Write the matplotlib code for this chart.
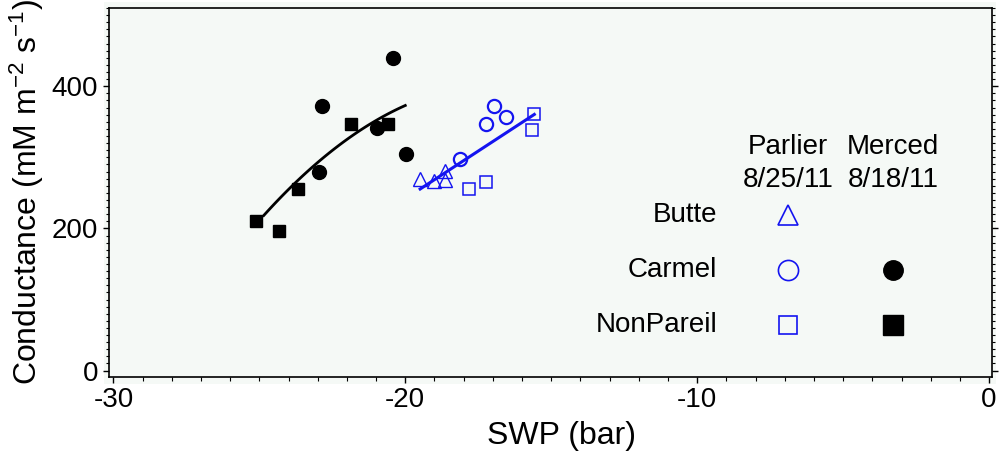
import numpy as np
import matplotlib
matplotlib.use("Agg")
import matplotlib.pyplot as plt
from matplotlib.patches import Rectangle
from matplotlib.ticker import MultipleLocator

plt.rcParams['font.family'] = ['Liberation Sans', 'DejaVu Sans']
plt.rcParams['axes.unicode_minus'] = False
plt.rcParams['mathtext.default'] = 'regular'

# Merced 8/18/11 (preto)
merced_carmel_x = [-20.43, -22.87, -20.97, -19.97, -22.97]
merced_carmel_y = [440, 372, 341, 304, 279]
merced_nonpareil_x = [-21.85, -20.59, -23.69, -25.10, -24.34]
merced_nonpareil_y = [347, 347, 256, 211, 196]

merced_curve_x = [-24.85, -24.17, -23.60, -23.02, -22.46, -21.88, -21.31, -20.74, -20.0]
merced_curve_y = [219, 247, 270, 291, 312, 330, 344, 357, 373]

# Parlier 8/25/11 (azul)
parlier_butte_x = [-19.49, -19.03, -18.65, -18.63]
parlier_butte_y = [270, 267, 281, 268]
parlier_carmel_x = [-16.96, -16.56, -17.23, -18.11]
parlier_carmel_y = [372, 357, 347, 298]
parlier_nonpareil_x = [-15.58, -15.66, -17.23, -17.82]
parlier_nonpareil_y = [361, 339, 265, 255]

row_labels = ["Butte", "Carmel", "NonPareil"]
BLUE = "#1414f0"

W, H = 1008, 457
fig = plt.figure(figsize=(W / 100, H / 100), dpi=100)

# fundo esverdeado um pouco maior que os eixos
fig.patches.append(Rectangle((104 / W, 1 - 384 / H), (996 - 104) / W, (384 - 2) / H,
                             transform=fig.transFigure, facecolor="#f5f9f6",
                             edgecolor="none", zorder=-10))

ax = fig.add_axes([109 / W, 1 - 377 / H, (992 - 109) / W, (377 - 8) / H])
ax.set_zorder(1)
ax.set_facecolor("#f5f9f6")
ax.set_xlim(-30.15, 0.1)
ax.set_ylim(-9, 510)

# curva Merced (quadratica suavizada pelos pontos lidos)
cx = np.array(merced_curve_x)
c2 = np.polyfit(cx, np.array(merced_curve_y), 2)
xx = np.linspace(cx.min(), cx.max(), 100)
ax.plot(xx, np.polyval(c2, xx), color="black", lw=2.0, zorder=2)

# reta Parlier
px = np.array(parlier_butte_x + parlier_carmel_x + parlier_nonpareil_x)
py = np.array(parlier_butte_y + parlier_carmel_y + parlier_nonpareil_y)
c1 = np.polyfit(px, py, 1)
xl = np.array([px.min(), px.max()])
ax.plot(xl, np.polyval(c1, xl), color=BLUE, lw=2.2, zorder=2)

ax.plot(merced_carmel_x, merced_carmel_y, "o", color="black", ms=10, ls="none", zorder=3)
ax.plot(merced_nonpareil_x, merced_nonpareil_y, "s", color="black", ms=8.8, ls="none", zorder=3)
ax.plot(parlier_butte_x, parlier_butte_y, "^", mfc="none", mec=BLUE, mew=1.0, ms=10, ls="none", zorder=3)
ax.plot(parlier_carmel_x, parlier_carmel_y, "o", mfc="none", mec=BLUE, mew=1.6, ms=9.5, ls="none", zorder=3)
ax.plot(parlier_nonpareil_x, parlier_nonpareil_y, "s", mfc="none", mec=BLUE, mew=1.1, ms=8.5, ls="none", zorder=3)

# legenda feita a mao
tr = ax.transAxes
fs = 20
ax.text(0.769, 0.623, "Parlier", transform=tr, ha="center", va="center", fontsize=fs)
ax.text(0.769, 0.534, "8/25/11", transform=tr, ha="center", va="center", fontsize=fs)
ax.text(0.888, 0.623, "Merced", transform=tr, ha="center", va="center", fontsize=fs)
ax.text(0.888, 0.534, "8/18/11", transform=tr, ha="center", va="center", fontsize=fs)
rows_y = [0.439, 0.290, 0.141]
for lab, yy in zip(row_labels, rows_y):
    ax.text(0.6886, yy, lab, transform=tr, ha="right", va="center", fontsize=fs)
ax.plot([0.769], [rows_y[0]], "^", transform=tr, mfc="none", mec=BLUE, mew=1.2, ms=15, clip_on=False)
ax.plot([0.769], [rows_y[1]], "o", transform=tr, mfc="none", mec=BLUE, mew=1.2, ms=14.5, clip_on=False)
ax.plot([0.769], [rows_y[2]], "s", transform=tr, mfc="none", mec=BLUE, mew=1.2, ms=13.5, clip_on=False)
ax.plot([0.888], [rows_y[1]], "o", transform=tr, color="black", ms=14, clip_on=False)
ax.plot([0.888], [rows_y[2]], "s", transform=tr, color="black", ms=15, clip_on=False)

ax.xaxis.set_major_locator(MultipleLocator(10))
ax.xaxis.set_minor_locator(MultipleLocator(1))
ax.yaxis.set_major_locator(MultipleLocator(200))
ax.yaxis.set_minor_locator(MultipleLocator(10))
ax.tick_params(axis="x", which="major", direction="out", length=4.5, width=1, labelsize=20, pad=3)
ax.tick_params(axis="x", which="minor", direction="out", length=3, width=0.8)
ax.tick_params(axis="y", which="major", direction="out", length=4, width=1, labelsize=20, pad=4,
               right=True)
ax.tick_params(axis="y", which="minor", direction="out", length=2.2, width=0.8, right=True)
for s in ax.spines.values():
    s.set_linewidth(1.2)

ax.set_xlabel("SWP (bar)", fontsize=23)
ax.set_ylabel("Conductance (mM m$^{-2}$ s$^{-1}$)", fontsize=23, labelpad=4)
ax.xaxis.set_label_coords(0.512, -0.118)

fig.savefig("out.png", dpi=100)
